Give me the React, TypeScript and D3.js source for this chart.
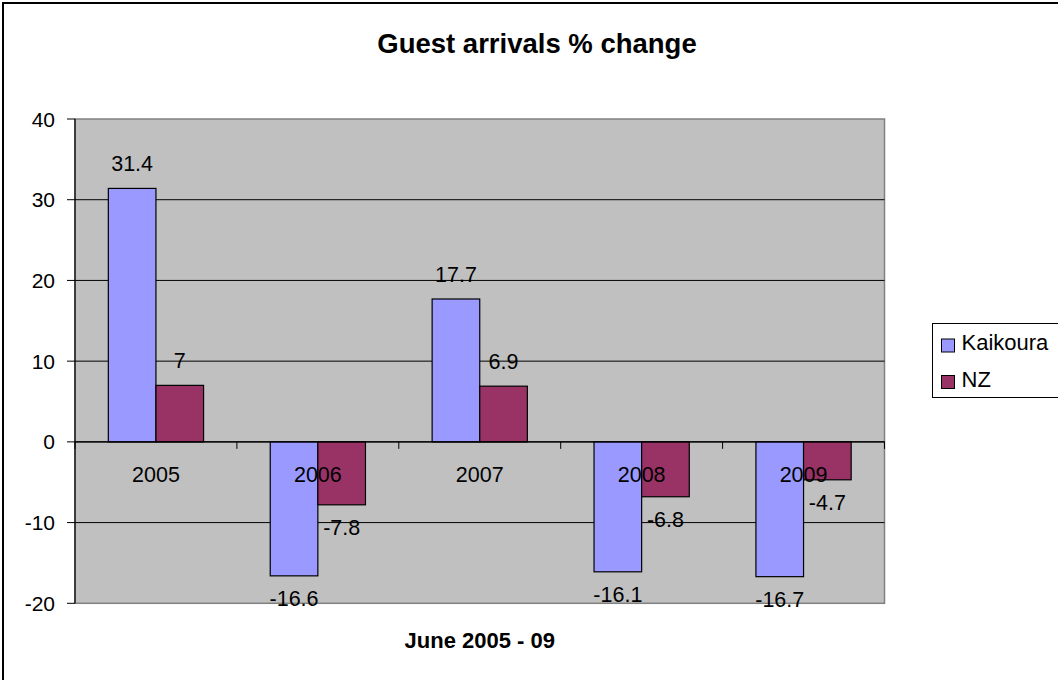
import { useEffect, useRef } from 'react'
import * as d3 from 'd3'

const years = ['2005', '2006', '2007', '2008', '2009']
const seriesNames = ['Kaikoura', 'NZ']
const kaikoura = [31.4, -16.6, 17.7, -16.1, -16.7]
const nz = [7, -7.8, 6.9, -6.8, -4.7]
const yTicks = [-20, -10, 0, 10, 20, 30, 40]
const colors = ['#9999FF', '#993366']

const W = 1058
const H = 680
const FONT = '"Liberation Sans", Arial, sans-serif'

export default function App() {
  const ref = useRef<SVGSVGElement | null>(null)

  useEffect(() => {
    document.body.style.margin = '0'
    const svg = d3.select(ref.current)
    svg.selectAll('*').remove()
    svg.attr('width', W).attr('height', H).style('font-family', FONT)

    // chart frame (cut off at right/bottom like the source)
    svg.append('rect')
      .attr('x', 3).attr('y', 3).attr('width', 1120).attr('height', 740)
      .attr('fill', '#fff').attr('stroke', '#000').attr('stroke-width', 2)

    const plot = { left: 75, right: 884.5, top: 119, bottom: 603.3 }

    const x = d3.scaleBand<string>().domain(years).range([plot.left, plot.right])
    const xs = d3.scaleBand<string>().domain(seriesNames).range([0, x.bandwidth()]).paddingInner(0).paddingOuter(0.7)
    const y = d3.scaleLinear().domain([-20, 40]).range([plot.bottom, plot.top])

    // plot area
    svg.append('rect')
      .attr('x', plot.left).attr('y', plot.top)
      .attr('width', plot.right - plot.left).attr('height', plot.bottom - plot.top)
      .attr('fill', '#C0C0C0').attr('stroke', '#808080').attr('stroke-width', 1.5)

    // gridlines
    yTicks.filter((t) => t > -20 && t < 40).forEach((t) => {
      svg.append('line')
        .attr('x1', plot.left).attr('x2', plot.right)
        .attr('y1', y(t)).attr('y2', y(t))
        .attr('stroke', '#000').attr('stroke-width', 1)
    })

    // y axis
    svg.append('line')
      .attr('x1', plot.left).attr('x2', plot.left)
      .attr('y1', plot.top).attr('y2', plot.bottom)
      .attr('stroke', '#000').attr('stroke-width', 1.2)
    yTicks.forEach((t) => {
      svg.append('line')
        .attr('x1', plot.left - 8).attr('x2', plot.left)
        .attr('y1', y(t)).attr('y2', y(t))
        .attr('stroke', '#000').attr('stroke-width', 1)
      svg.append('text')
        .attr('x', 55).attr('y', y(t) + 7.5)
        .attr('text-anchor', 'end')
        .attr('font-size', 21)
        .text(String(t))
    })

    // bars
    const data = [kaikoura, nz]
    data.forEach((vals, si) => {
      vals.forEach((v, i) => {
        const bx = (x(years[i]) ?? 0) + (xs(seriesNames[si]) ?? 0)
        const bw = xs.bandwidth()
        const y0 = y(Math.max(0, v))
        const y1 = y(Math.min(0, v))
        svg.append('rect')
          .attr('x', bx).attr('y', y0)
          .attr('width', bw).attr('height', y1 - y0)
          .attr('fill', colors[si]).attr('stroke', '#000').attr('stroke-width', 1.2)
      })
    })

    // category axis at zero
    svg.append('line')
      .attr('x1', plot.left).attr('x2', plot.right)
      .attr('y1', y(0)).attr('y2', y(0))
      .attr('stroke', '#000').attr('stroke-width', 1.2)
    ;[...years.map((yr) => x(yr) ?? 0), plot.right].forEach((tx) => {
      svg.append('line')
        .attr('x1', tx).attr('x2', tx)
        .attr('y1', y(0)).attr('y2', y(0) + 7)
        .attr('stroke', '#000').attr('stroke-width', 1)
    })
    years.forEach((yr) => {
      svg.append('text')
        .attr('x', (x(yr) ?? 0) + x.bandwidth() / 2)
        .attr('y', y(0) + 40)
        .attr('text-anchor', 'middle')
        .attr('font-size', 21.5)
        .text(yr)
    })

    // data labels
    data.forEach((vals, si) => {
      vals.forEach((v, i) => {
        const cx = (x(years[i]) ?? 0) + (xs(seriesNames[si]) ?? 0) + xs.bandwidth() / 2
        const ly = v >= 0 ? y(v) - 17 : y(v) + 30
        svg.append('text')
          .attr('x', cx).attr('y', ly)
          .attr('text-anchor', 'middle')
          .attr('font-size', 21.5)
          .text(String(v))
      })
    })

    // title
    svg.append('text')
      .attr('x', 537).attr('y', 53)
      .attr('text-anchor', 'middle')
      .attr('font-size', 27.5).attr('font-weight', 'bold')
      .text('Guest arrivals % change')

    // x axis title
    svg.append('text')
      .attr('x', (plot.left + plot.right) / 2).attr('y', 648)
      .attr('text-anchor', 'middle')
      .attr('font-size', 22).attr('font-weight', 'bold')
      .text('June 2005 - 09')

    // legend
    const legend = svg.append('g')
    legend.append('rect')
      .attr('x', 932.5).attr('y', 323.5).attr('width', 200).attr('height', 74)
      .attr('fill', '#fff').attr('stroke', '#000').attr('stroke-width', 1)
    seriesNames.forEach((name, i) => {
      const ly = 339 + i * 36.5
      legend.append('rect')
        .attr('x', 941.5).attr('y', ly).attr('width', 13).attr('height', 13)
        .attr('fill', colors[i]).attr('stroke', '#000').attr('stroke-width', 1)
      legend.append('text')
        .attr('x', 961.5).attr('y', ly + 11)
        .attr('font-size', 22)
        .text(name)
    })
  }, [])

  return <svg ref={ref} style={{ display: 'block' }} />
}
